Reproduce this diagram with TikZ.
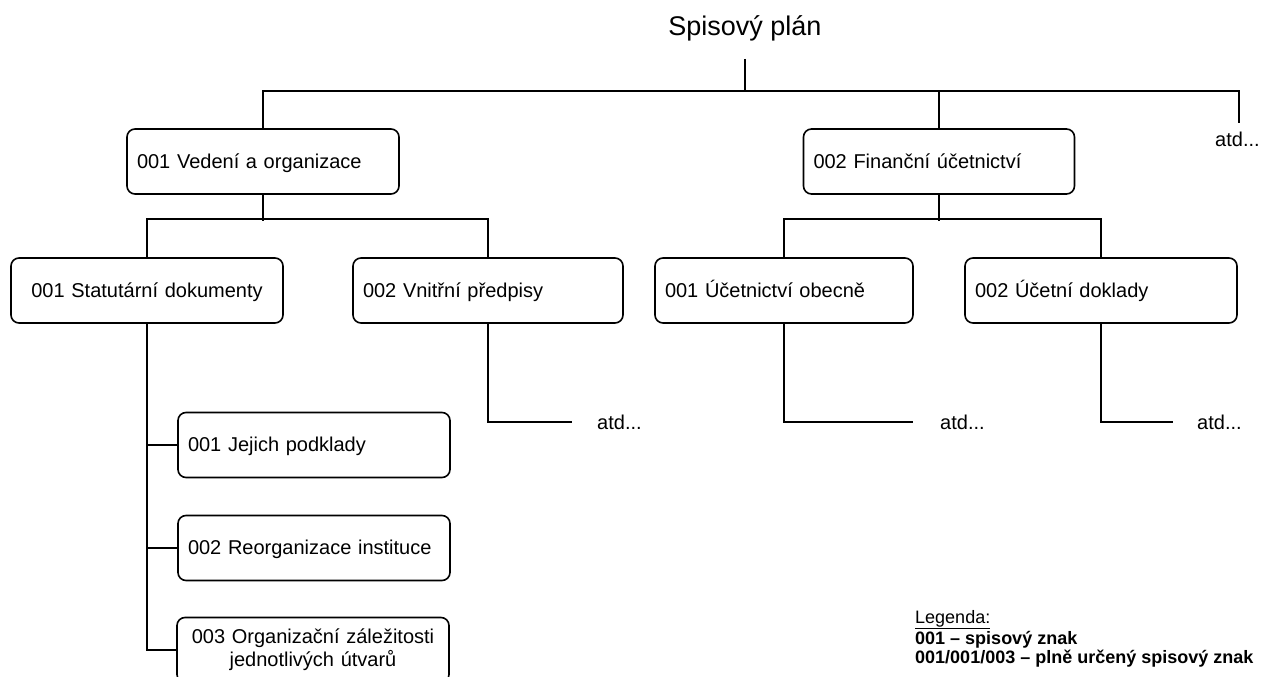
\documentclass[tikz,border=0pt]{standalone}
\usepackage{fontspec}
\setmainfont{Liberation Sans}
\newcommand\bxfont{\fontsize{20}{23}\selectfont}
\newcommand\lgfont{\fontsize{18}{21}\selectfont}
\begin{document}
\begin{tikzpicture}[x=1pt,y=-1pt,
  conn/.style={draw=black, line width=1.6pt},
  bx/.style={draw=black, line width=1.6pt, rounded corners=8pt, minimum height=65pt,
    inner ysep=0pt, inner xsep=10pt, font=\bxfont, align=left},
  one/.style={text height=17pt, text depth=4pt},
  atdtxt/.style={anchor=base west, inner sep=0pt, font=\bxfont},
  lg/.style={anchor=base west, inner sep=0pt, font=\lgfont}]
\useasboundingbox (0,0) rectangle (1277,677);
\fill[white] (0,0) rectangle (1277,677);

% title
\node[font=\fontsize{27}{30}\selectfont, anchor=base, inner xsep=0pt, inner ysep=17pt] (title) at (745,36) {Spisový plán};

% level 1
\node[bx, one, text width=252pt, minimum width=272pt] (b1) at (263,161.5) {001 Vedení a organizace};
\node[bx, one, text width=251pt, minimum width=271pt] (b2) at (939,161.5) {002 Finanční účetnictví};
\node[atdtxt] (atd0) at (1215,146) {atd...};

% level 2
\node[bx, one, text width=252pt, minimum width=272pt, align=center] (b3) at (147,290.5) {001 Statutární dokumenty};
\node[bx, one, text width=250pt, minimum width=270pt] (b4) at (488,290.5) {002 Vnitřní předpisy};
\node[bx, one, text width=238pt, minimum width=258pt] (b5) at (784,290.5) {001 Účetnictví obecně};
\node[bx, one, text width=252pt, minimum width=272pt] (b6) at (1101,290.5) {002 Účetní doklady};

% level 3
\node[bx, one, text width=252pt, minimum width=272pt] (c1) at (314,445) {001 Jejich podklady};
\node[bx, one, text width=252pt, minimum width=272pt] (c2) at (314,548) {002 Reorganizace instituce};
\node[bx, text width=252pt, minimum width=272pt, align=center] (c3) at (313,650) {003 Organizační záležitosti\\jednotlivých útvarů};

% atd nodes
\node[atdtxt] (atd4) at (597,429) {atd...};
\node[atdtxt] (atd5) at (940,429) {atd...};
\node[atdtxt] (atd6) at (1197,429) {atd...};

% legend
\node[lg] (lg0) at (915,623) {\underline{Legenda:}};
\node[lg] (lg1) at (915,644) {\textbf{001 – spisový znak}};
\node[lg] (lg2) at (915,663) {\textbf{001/001/003 – plně určený spisový znak}};

% connectors
\coordinate (j0) at (745,91);
\coordinate (jE) at (1239,91);
\coordinate (eE) at (1239,123);
\draw[conn] (title.south) -- (j0);
\draw[conn] (b1.north) |- (jE) -- (eE);
\draw[conn] (b2.north) -- (b2.north |- j0);

\draw[conn] (b1.south) -- ++(0,26);
\draw[conn] (b3.north) -- ++(0,-38) -| (b4.north);
\draw[conn] (b2.south) -- ++(0,26);
\draw[conn] (b5.north) -- ++(0,-38) -| (b6.north);

\draw[conn] (b3.south) |- (c3.west);
\draw[conn] (c1.west) -- (c1.west -| b3.south);
\draw[conn] (c2.west) -- (c2.west -| b3.south);

\coordinate (e4) at (572,422);
\coordinate (e5) at (913,422);
\coordinate (e6) at (1173,422);
\draw[conn] (b4.south) |- (e4);
\draw[conn] (b5.south) |- (e5);
\draw[conn] (b6.south) |- (e6);
\end{tikzpicture}
\end{document}
